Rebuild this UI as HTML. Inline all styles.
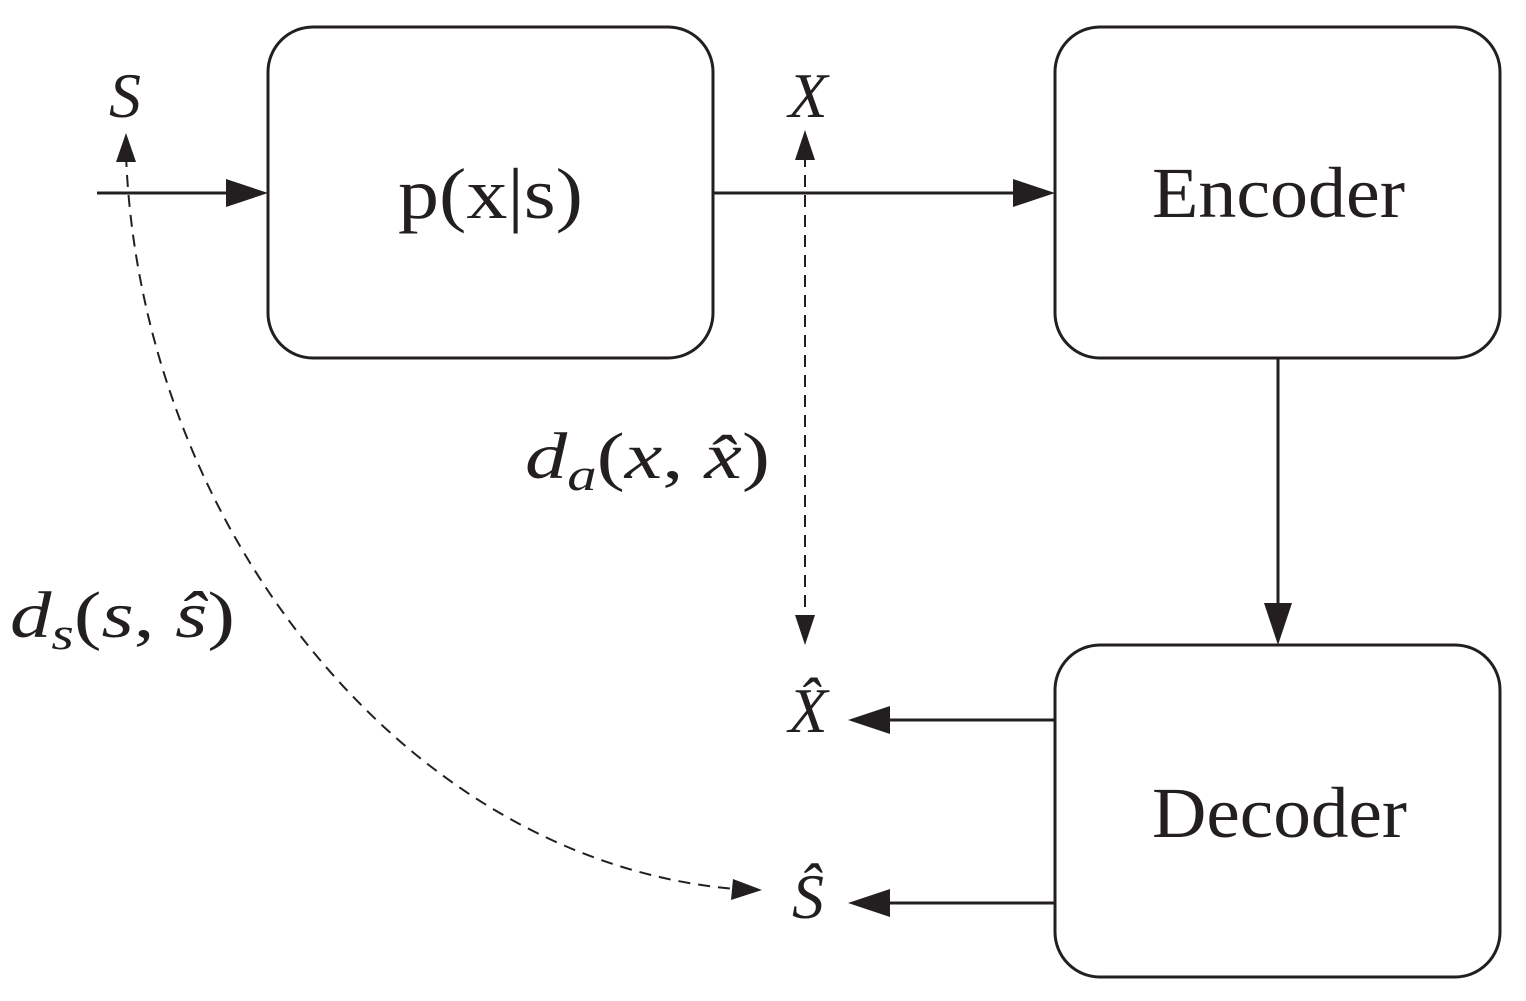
<!DOCTYPE html>
<html><head><meta charset="utf-8"><style>
html,body{margin:0;padding:0;background:#fff;}
svg{display:block;}
text{font-family:"Liberation Serif","DejaVu Serif",serif;fill:#231f20;}
.it{font-style:italic;}
</style></head><body>
<svg width="1526" height="1001" viewBox="0 0 1526 1001" xmlns="http://www.w3.org/2000/svg">
<g fill="none" stroke="#231f20" stroke-width="3">
<rect x="268" y="27" width="445" height="331" rx="45"/>
<rect x="1055" y="27" width="445" height="331" rx="45"/>
<rect x="1055" y="645" width="445" height="332" rx="45"/>
<line x1="97" y1="193" x2="232" y2="193"/>
<line x1="713" y1="193" x2="1020" y2="193"/>
<line x1="1278" y1="358" x2="1278" y2="610"/>
<line x1="1055" y1="720" x2="884" y2="720"/>
<line x1="1055" y1="903" x2="884" y2="903"/>
</g>
<g fill="none" stroke="#231f20" stroke-width="2" stroke-dasharray="12,8">
<line x1="805" y1="155" x2="805" y2="620"/>
<path d="M126 155 C 140 520, 400 860, 735 889"/>
</g>
<g fill="#231f20">
<polygon points="268,193 226,179 226,207"/>
<polygon points="1055,193 1013,179 1013,207"/>
<polygon points="1278,645 1264,603 1292,603"/>
<polygon points="848,720 890,706 890,734"/>
<polygon points="848,903 890,889 890,917"/>
<polygon points="805,130 795,160 815,160"/>
<polygon points="805,645 795,615 815,615"/>
<polygon points="126,133 116,162 136,162"/>
<polygon points="762,890 733,879 731,900"/>
</g>
<text x="398" y="218" font-size="72" textLength="185" lengthAdjust="spacingAndGlyphs">p(x|s)</text>
<text x="1152" y="217" font-size="72" textLength="253" lengthAdjust="spacingAndGlyphs">Encoder</text>
<text x="1152" y="837" font-size="72" textLength="255" lengthAdjust="spacingAndGlyphs">Decoder</text>
<text class="it" x="125" y="117" font-size="64" text-anchor="middle">S</text>
<text class="it" x="808" y="117" font-size="64" text-anchor="middle">X</text>
<text class="it" x="808" y="732" font-size="64" text-anchor="middle">X̂</text>
<text class="it" x="808" y="918" font-size="64" text-anchor="middle">Ŝ</text>
<text x="525" y="478" font-size="66" textLength="245" lengthAdjust="spacingAndGlyphs"><tspan class="it">d</tspan><tspan class="it" font-size="46" dy="12">a</tspan><tspan dy="-12">(</tspan><tspan class="it">x</tspan>, <tspan class="it">x̂</tspan>)</text>
<text x="10" y="637" font-size="66" textLength="225" lengthAdjust="spacingAndGlyphs"><tspan class="it">d</tspan><tspan class="it" font-size="46" dy="12">s</tspan><tspan dy="-12">(</tspan><tspan class="it">s</tspan>, <tspan class="it">ŝ</tspan>)</text>
</svg>
</body></html>
